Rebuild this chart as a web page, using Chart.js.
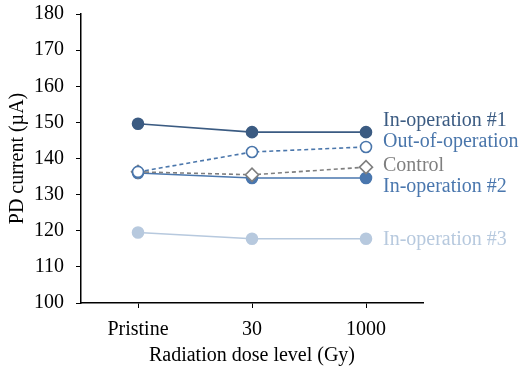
<!DOCTYPE html>
<html lang="en">
  <head>
    <meta charset="UTF-8" />
    <title>PD current vs radiation dose</title>
    <script src="https://cdn.jsdelivr.net/npm/chart.js"></script>
    <style>
      html, body { margin: 0; padding: 0; background: #fff; }
      #wrap { width: 519px; height: 369px; }
    </style>
  </head>
  <body>
    <div id="wrap"><canvas id="pdChart"></canvas></div>
    <script>
      const doseLevels = ["Pristine", "30", "1000"];
      const yTicks = [100, 110, 120, 130, 140, 150, 160, 170, 180];

      const inOperation1 = [149.6, 147.3, 147.3];
      const outOfOperation = [136.3, 141.8, 143.2];
      const control = [136.3, 135.5, 137.6];
      const inOperation2 = [136.0, 134.6, 134.6];
      const inOperation3 = [119.5, 117.8, 117.8];

      const serif = "'Liberation Serif', 'Times New Roman', serif";

      // series names written next to the last point of each line
      const endLabels = {
        id: "endLabels",
        afterDatasetsDraw(chart, args, opts) {
          const ctx = chart.ctx;
          ctx.save();
          ctx.font = "20px " + serif;
          ctx.textAlign = "left";
          ctx.textBaseline = "middle";
          chart.data.datasets.forEach((ds, i) => {
            const meta = chart.getDatasetMeta(i);
            const last = meta.data[meta.data.length - 1];
            ctx.fillStyle = ds.labelColor;
            ctx.fillText(ds.label, opts.x, last.y + opts.shift[i]);
          });
          ctx.restore();
        },
      };

      new Chart(document.getElementById("pdChart"), {
        type: "line",
        data: {
          labels: doseLevels,
          datasets: [
            {
              label: "In-operation #1",
              data: inOperation1,
              borderColor: "#3b5b82",
              backgroundColor: "#3b5b82",
              labelColor: "#3b5b82",
              order: 1,
            },
            {
              label: "Out-of-operation",
              data: outOfOperation,
              borderColor: "#4a76ab",
              backgroundColor: "#ffffff",
              labelColor: "#4a76ab",
              borderDash: [4, 3],
              order: 2,
            },
            {
              label: "Control",
              data: control,
              borderColor: "#7f7f7f",
              backgroundColor: "#ffffff",
              labelColor: "#7f7f7f",
              borderDash: [4, 3],
              pointStyle: "rectRot",
              pointRadius: 6.5,
              order: 3,
            },
            {
              label: "In-operation #2",
              data: inOperation2,
              borderColor: "#4a77ae",
              backgroundColor: "#4a77ae",
              labelColor: "#4a77ae",
              order: 4,
            },
            {
              label: "In-operation #3",
              data: inOperation3,
              borderColor: "#b7c9de",
              backgroundColor: "#b7c9de",
              labelColor: "#b7c9de",
              order: 5,
            },
          ],
        },
        options: {
          responsive: true,
          maintainAspectRatio: false,
          animation: false,
          datasets: {
            line: { borderWidth: 1.6, pointBorderWidth: 1.6, pointRadius: 5.5, tension: 0 },
          },
          layout: { padding: { top: 14, right: 96, left: 0, bottom: 0 } },
          plugins: {
            legend: { display: false },
            tooltip: { enabled: false },
            endLabels: { x: 383, shift: [-11, -5, -1, 9, 1] },
          },
          scales: {
            x: {
              offset: true,
              grid: {
                offset: false,
                drawOnChartArea: false,
                drawTicks: true,
                tickLength: 5,
                color: "#000",
              },
              border: { color: "#000", width: 1.5 },
              ticks: {
                color: "#000",
                font: { family: serif, size: 20 },
                padding: 10,
                maxRotation: 0,
              },
              title: {
                display: true,
                text: "Radiation dose level (Gy)",
                color: "#000",
                font: { family: serif, size: 20 },
                padding: { top: 0, bottom: 1 },
              },
              afterFit(scale) {
                scale.height = 66;
                scale.paddingLeft = 0;
                scale.paddingRight = 0;
              },
            },
            y: {
              min: 100,
              max: 180,
              afterBuildTicks(scale) {
                scale.ticks = yTicks.map((v) => ({ value: v }));
              },
              grid: {
                drawOnChartArea: false,
                drawTicks: true,
                tickLength: 5,
                color: "#000",
              },
              border: { color: "#000", width: 1.5 },
              ticks: {
                color: "#000",
                font: { family: serif, size: 20 },
                padding: 12,
              },
              title: {
                display: true,
                text: "PD current (µA)",
                color: "#000",
                font: { family: serif, size: 20 },
                padding: { top: 6, bottom: 0 },
              },
              afterFit(scale) {
                scale.width = 81;
                scale.paddingTop = 0;
                scale.paddingBottom = 0;
              },
            },
          },
        },
        plugins: [endLabels],
      });
    </script>
  </body>
</html>
